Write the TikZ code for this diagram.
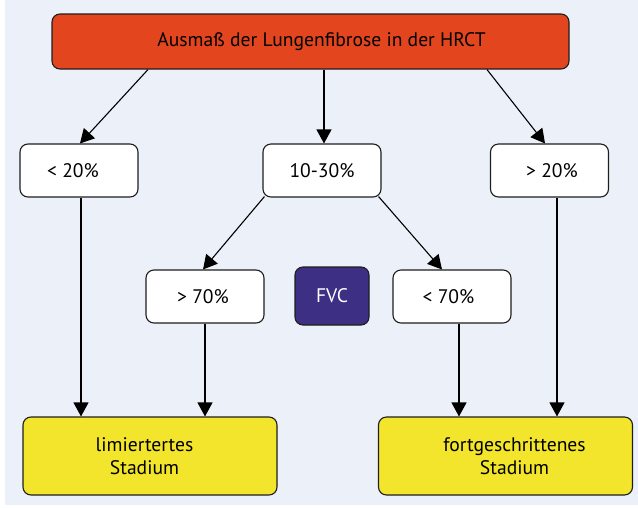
\documentclass[tikz,border=0pt]{standalone}
\usepackage{fontspec}
\setmainfont{PT Sans}
\usetikzlibrary{arrows.meta}
\definecolor{bgc}{HTML}{ECF1F9}
\definecolor{redc}{HTML}{E3461F}
\definecolor{yelc}{HTML}{F2E52B}
\definecolor{purc}{HTML}{3C2F84}
\definecolor{edgec}{HTML}{1E1E1E}
\tikzset{
  box/.style={draw=edgec, line width=1.1pt, rounded corners=8pt, inner sep=0pt,
    align=center, font=\fontsize{19.6}{23}\selectfont},
  whitebox/.style={box, fill=white, minimum width=118pt, minimum height=53pt},
  stagebox/.style={box, fill=yelc, minimum width=254pt, minimum height=78pt},
  arr/.style={-{Triangle[length=14pt,width=15pt]}, line width=1.1pt, draw=black},
}
\begin{document}
\begin{tikzpicture}[x=1pt,y=-1pt]
\useasboundingbox (0,0) rectangle (638,507);
\fill[bgc] (5,0) rectangle (638,505);

\node[box, fill=redc, minimum width=517pt, minimum height=55pt] (top) at (310.5,41.5)
  {\hspace*{22pt}Ausmaß der Lungenfibrose in der HRCT};
\node[whitebox] (lt20) at (79,170.5) {< 20\%\hspace*{12pt}};
\node[whitebox] (mid) at (322,170.5) {10-30\%};
\node[whitebox] (gt20) at (549.5,170.5) {\hspace*{5pt}> 20\%};
\node[whitebox] (gt70) at (205,296.5) {> 70\%\hspace*{4pt}};
\node[box, fill=purc, text=white, minimum width=74pt, minimum height=58pt] (fvc) at (332,296) {FVC};
\node[whitebox] (lt70) at (452,296.5) {< 70\%\hspace*{7pt}};
\node[stagebox] (lim) at (150,456) {limiertertes\hspace*{11pt}\\Stadium\hspace*{11pt}};
\node[stagebox] (fort) at (505.5,456) {\hspace*{18pt}fortgeschrittenes\\\hspace*{18pt}Stadium};

\draw[arr] ([xshift=-162.5pt]top.south) -- ([xshift=1pt]lt20.north);
\draw[arr] ([xshift=2pt]mid.north |- top.south) -- ([xshift=2pt]mid.north);
\draw[arr] ([xshift=176.5pt]top.south) -- ([xshift=-4.5pt]gt20.north);
\draw[arr] ([xshift=2pt,yshift=1pt]mid.south west) -- ([xshift=-2pt]gt70.north);
\draw[arr] ([xshift=-3pt,yshift=1pt]mid.south east) -- ([xshift=-10pt]lt70.north);
\draw[arr] ([xshift=2pt]lt20.south) -- ([xshift=2pt]lt20.south |- lim.north);
\draw[arr] (gt70.south) -- (gt70.south |- lim.north);
\draw[arr] ([xshift=7pt]lt70.south) -- ([xshift=7pt]lt70.south |- fort.north);
\draw[arr] ([xshift=7.5pt]gt20.south) -- ([xshift=7.5pt]gt20.south |- fort.north);
\end{tikzpicture}
\end{document}
